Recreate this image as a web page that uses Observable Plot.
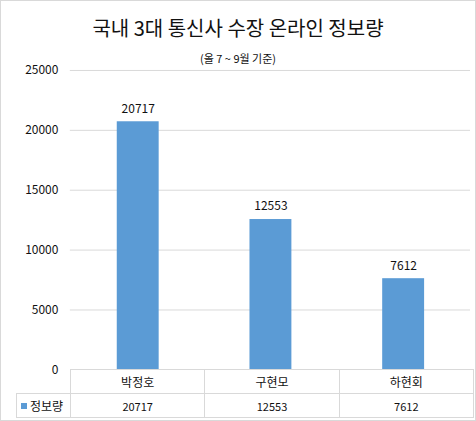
<!DOCTYPE html>
<html>
<head>
<meta charset="utf-8">
<script src="https://cdn.jsdelivr.net/npm/d3@7"></script>
<script src="https://cdn.jsdelivr.net/npm/@observablehq/plot@0.6"></script>
<style>
  html, body { margin: 0; padding: 0; background: #fff; }
  #wrap { position: relative; width: 476px; height: 421px; box-sizing: border-box; border: 1px solid #d9d9d9; overflow: hidden; font-family: "Noto Sans CJK KR", "Noto Sans", sans-serif; }
  #title { position: absolute; left: -1px; width: 476px; top: 13px; text-align: center; font-size: 20px; line-height: 28px; color: #111; }
  #subtitle { position: absolute; left: -1px; width: 476px; top: 49px; text-align: center; font-size: 11px; line-height: 16px; color: #111; }
  #chart { position: absolute; left: -1px; top: 61px; }
  #chart svg { overflow: visible; }
  #tbl { position: absolute; left: 15px; top: 368px; border-collapse: collapse; table-layout: fixed; font-size: 12px; color: #111; }
  #tbl td { border: 1px solid #d9d9d9; height: 24px; padding: 0; text-align: center; box-sizing: border-box; }
  #tbl td.empty { border-top: none; border-left: none; }
  #tbl td.leg { text-align: left; padding-left: 4px; white-space: nowrap; }
  #tbl .sw { display: inline-block; width: 6px; height: 6px; background: #5b9bd5; margin-right: 3px; vertical-align: 2px; }
  #tbl tr.vals td { font-size: 11px; }
</style>
</head>
<body>
<div id="wrap">
  <div id="title"></div>
  <div id="subtitle"></div>
  <div id="chart"></div>
  <table id="tbl"></table>
</div>
<script>
const titleText = "국내 3대 통신사 수장 온라인 정보량";
const subtitleText = "(올 7 ~ 9월 기준)";
const names = ["박정호", "구현모", "하현회"];
const values = [20717, 12553, 7612];
const seriesName = "정보량";
const yTicks = [0, 5000, 10000, 15000, 20000, 25000];

document.getElementById("title").textContent = titleText;
document.getElementById("subtitle").textContent = subtitleText;

const data = names.map((n, i) => ({name: n, value: values[i]}));

const chart = Plot.plot({
  width: 476,
  height: 308,
  marginLeft: 70,
  marginRight: 5,
  marginTop: 8,
  marginBottom: 0,
  style: {fontFamily: "'Noto Sans CJK KR', 'Noto Sans', sans-serif", fontSize: "12px", color: "#111", overflow: "visible"},
  x: {domain: names, paddingInner: 0.687, paddingOuter: 0.3435, axis: null},
  y: {domain: [0, 25000], ticks: yTicks, label: null, axis: null},
  marks: [
    Plot.gridY(yTicks.filter(t => t > 0), {stroke: "#d9d9d9", strokeOpacity: 1}),
    Plot.axisY(yTicks, {tickSize: 0, tickPadding: 12, label: null, tickFormat: d => String(d), fontSize: 12, fill: "#111"}),
    Plot.barY(data, {x: "name", y: "value", fill: "#5b9bd5"}),
    Plot.text(data, {x: "name", y: "value", text: d => String(d.value), dy: -13, fontSize: 12, fill: "#111"})
  ]
});
document.getElementById("chart").appendChild(chart);

// data table under the chart
const tbl = document.getElementById("tbl");
const colW = (472 - 69) / names.length;
const cg = document.createElement("colgroup");
[54, colW, colW, colW].forEach(w => { const c = document.createElement("col"); c.style.width = w + "px"; cg.appendChild(c); });
tbl.appendChild(cg);
const r1 = document.createElement("tr");
const e = document.createElement("td"); e.className = "empty"; r1.appendChild(e);
names.forEach(n => { const td = document.createElement("td"); td.textContent = n; r1.appendChild(td); });
tbl.appendChild(r1);
const r2 = document.createElement("tr"); r2.className = "vals";
const lg = document.createElement("td"); lg.className = "leg";
lg.innerHTML = '<span class="sw"></span>';
const lt = document.createElement("span"); lt.textContent = seriesName; lt.style.fontSize = "12px"; lg.appendChild(lt);
r2.appendChild(lg);
values.forEach(v => { const td = document.createElement("td"); td.textContent = String(v); r2.appendChild(td); });
tbl.appendChild(r2);
tbl.style.width = (54 + colW * 3) + "px";
</script>
</body>
</html>
